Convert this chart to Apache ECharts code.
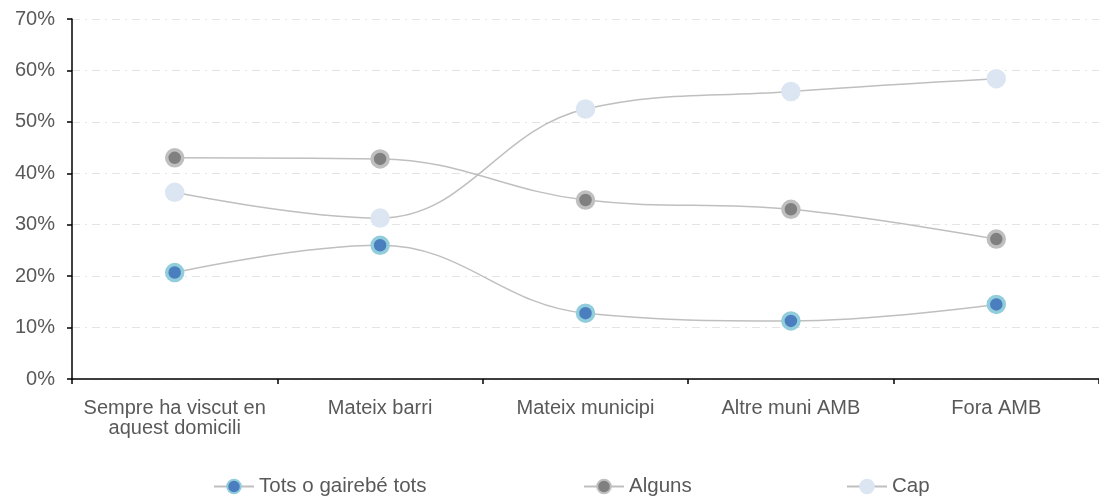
<!DOCTYPE html>
<html><head><meta charset="utf-8">
<script src="https://cdn.jsdelivr.net/npm/echarts@6/dist/echarts.min.js"></script>
<style>html,body{margin:0;padding:0;background:#fff}#c{width:1099px;height:497px}</style>
</head><body><div id="c"></div>
<script>
const categories = ['Sempre ha viscut en\naquest domicili', 'Mateix barri', 'Mateix municipi', 'Altre muni AMB', 'Fora AMB'];
const seriesNames = ['Tots o gairebé tots', 'Alguns', 'Cap'];
const totsValues = [20.7, 26.0, 12.8, 11.3, 14.5];
const algunsValues = [43.0, 42.8, 34.8, 33.0, 27.2];
const capValues = [36.3, 31.3, 52.5, 55.9, 58.4];

const font = 'Liberation Sans, Arial, sans-serif';
const chart = echarts.init(document.getElementById('c'), null, {renderer: 'canvas'});
function mk(name, data, fill, border) {
  return {
    name, type: 'line', data, smooth: 0.4, symbol: 'circle', symbolSize: 16,
    lineStyle: {color: '#bfbfbf', width: 1.5},
    itemStyle: {color: fill, borderColor: border, borderWidth: 3.5},
    emphasis: {disabled: true}, animation: false, z: 3
  };
}
const legBase = {top: 471, itemWidth: 40, itemHeight: 17, itemGap: 5, textStyle: {fontFamily: font, fontSize: 20.5, color: '#595959'}, selectedMode: false};
chart.setOption({
  animation: false,
  grid: {left: 72, top: 19, width: 1034, height: 360, containLabel: false},
  legend: [
    Object.assign({left: 208, data: [seriesNames[0]]}, legBase),
    Object.assign({left: 578, data: [seriesNames[1]]}, legBase),
    Object.assign({left: 841, data: [seriesNames[2]]}, legBase)
  ],
  xAxis: {
    type: 'category', data: categories, boundaryGap: true,
    axisLine: {lineStyle: {color: '#000', width: 1.5}},
    axisTick: {show: true, length: 5, lineStyle: {color: '#000', width: 1.5}},
    axisLabel: {fontFamily: font, fontSize: 20, color: '#595959', margin: 19, lineHeight: 20, interval: 0},
    splitLine: {show: false}
  },
  yAxis: {
    type: 'value', min: 0, max: 70, interval: 10,
    axisLine: {show: true, lineStyle: {color: '#000', width: 1.5}},
    axisTick: {show: true, length: 5, lineStyle: {color: '#000', width: 1.5}},
    axisLabel: {formatter: '{value}%', fontFamily: font, fontSize: 20, color: '#595959', margin: 17},
    splitLine: {show: true, lineStyle: {color: '#e4e4e4', width: 1.2, type: [8, 5, 2, 5]}}
  },
  series: [
    mk(seriesNames[0], totsValues, '#4a7ebf', '#92cddc'),
    mk(seriesNames[1], algunsValues, '#808080', '#bfbfbf'),
    mk(seriesNames[2], capValues, '#dce6f2', '#dce6f2')
  ]
});
</script></body></html>
